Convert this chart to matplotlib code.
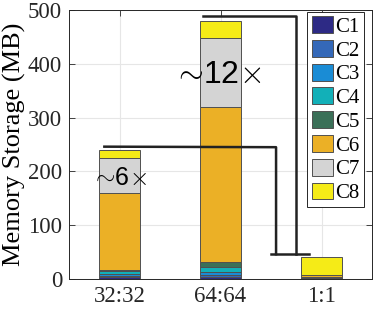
import matplotlib
matplotlib.use('Agg')
import matplotlib.pyplot as plt
import numpy as np

# data (MB), stacked from C1 at the bottom to C8 on top
categories = ['32:32', '64:64', '1:1']
C1 = [3, 3, 0.6]
C2 = [3, 4, 0.6]
C3 = [4, 6, 0.6]
C4 = [4, 10, 0.6]
C5 = [3, 8, 0.6]
C6 = [142, 288, 4]
C7 = [65, 129, 0.5]
C8 = [16, 32, 33]
series = [C1, C2, C3, C4, C5, C6, C7, C8]
names = ['C1', 'C2', 'C3', 'C4', 'C5', 'C6', 'C7', 'C8']
colors = ['#2d2a85', '#3468b8', '#1a8cd5', '#12b0b8', '#3b7058',
          '#ebb026', '#d4d4d4', '#f5eb17']

# bracket annotations (x in category units, y in MB)
bracket1_x = [0.85, 2.55, 2.55]
bracket1_y = [246, 245, 46]
bracket2_x = [1.83, 2.75, 2.75]
bracket2_y = [489, 489, 46]
foot_x = [2.5, 2.88]
foot_y = [46, 46]

plt.rcParams['font.family'] = ['Liberation Serif', 'DejaVu Serif']
plt.rcParams['mathtext.fontset'] = 'cm'

fig = plt.figure(figsize=(3.74, 3.10), dpi=100)
ax = fig.add_axes([0.1845, 0.1, 0.8102, 0.8677])

x = np.arange(1, len(categories) + 1)
bottom = np.zeros(len(categories))
for vals, name, col in zip(series, names, colors):
    ax.bar(x, vals, width=0.4, bottom=bottom, color=col, edgecolor='#505050',
           linewidth=0.7, label=name, zorder=3)
    bottom += np.array(vals)

ax.plot(bracket1_x, bracket1_y, color='#222222', lw=1.8, zorder=4)
ax.plot(bracket2_x, bracket2_y, color='#222222', lw=1.8, zorder=4)
ax.plot(foot_x, foot_y, color='#222222', lw=1.8, zorder=4)

ax.text(1.02, 187, r'$\!\!\sim\!$6$\!\times$', ha='center', va='center',
        fontsize=18, family=['Liberation Sans', 'DejaVu Sans'], zorder=5)
ax.text(2.0, 379, r'$\!\!\sim\!$12$\!\times$', ha='center', va='center',
        fontsize=23, family=['Liberation Sans', 'DejaVu Sans'], zorder=5)

ax.set_xlim(0.5, 3.5)
ax.set_ylim(0, 500)
ax.set_xticks(x)
ax.set_xticklabels(categories)
ax.set_yticks([0, 100, 200, 300, 400, 500])
ax.tick_params(direction='in', length=4, width=0.6, labelsize=16.5,
               top=True, right=True, colors='#262626', pad=5)
ax.grid(True, color='#e6e6e6', lw=0.8, zorder=0)
ax.set_axisbelow(True)
for s in ax.spines.values():
    s.set_color('#262626')
    s.set_linewidth(0.7)
ax.set_ylabel('Memory Storage (MB)', fontsize=19, labelpad=1)

leg = ax.legend(loc='upper right', bbox_to_anchor=(0.9736, 0.9926),
                borderaxespad=0, fontsize=15, handlelength=1.05,
                handleheight=0.87, handletextpad=0.1, labelspacing=0.15,
                borderpad=0.2, fancybox=False, framealpha=1)
leg.get_frame().set_edgecolor('#262626')
leg.get_frame().set_linewidth(0.7)

fig.savefig('out.png', dpi=100)
